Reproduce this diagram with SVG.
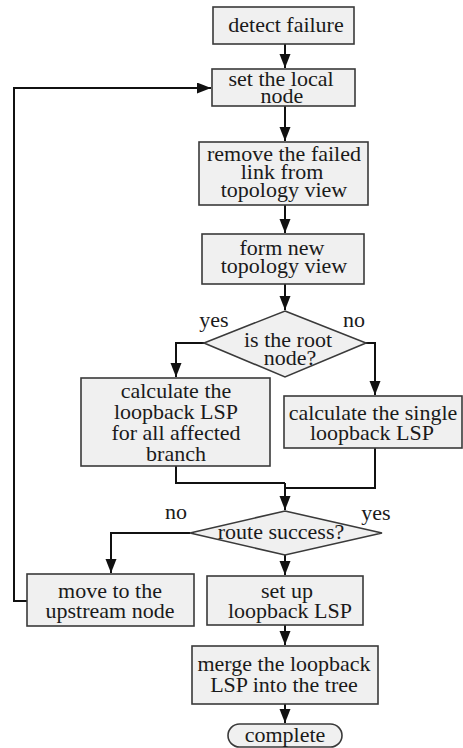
<svg xmlns="http://www.w3.org/2000/svg" width="463" height="748" viewBox="0 0 463 748" font-family="'Liberation Serif', 'Times New Roman', serif">
<style>
.box{fill:#f0f0f0;stroke:#3a3a3a;stroke-width:1.6}
text{font-family:'Liberation Serif','Times New Roman',serif;font-size:22px;fill:#1a1a1a;text-anchor:middle}
.c{fill:none;stroke:#111;stroke-width:2}
</style>
<defs>
<marker id="ah" markerUnits="userSpaceOnUse" markerWidth="15" markerHeight="12" refX="14" refY="5.5" orient="auto">
<path d="M0,0 L14,5.5 L0,11 z" fill="#111"/>
</marker>
</defs>
<rect width="463" height="748" fill="#ffffff"/>
<g id="connectors">
<path class="c" d="M285,44 V68" marker-end="url(#ah)"/>
<path class="c" d="M285,106 V141" marker-end="url(#ah)"/>
<path class="c" d="M285,205 V233" marker-end="url(#ah)"/>
<path class="c" d="M285,284 V310" marker-end="url(#ah)"/>
<path class="c" d="M204,343 H176 V377" marker-end="url(#ah)"/>
<path class="c" d="M366,343 H375 V395" marker-end="url(#ah)"/>
<path class="c" d="M176,466 V483 H285"/>
<path class="c" d="M375,448 V488 H285"/>
<path class="c" d="M285,483 V510" marker-end="url(#ah)"/>
<path class="c" d="M190,533 H111 V573" marker-end="url(#ah)"/>
<path class="c" d="M285,555 V575" marker-end="url(#ah)"/>
<path class="c" d="M285,625 V645" marker-end="url(#ah)"/>
<path class="c" d="M285,704 V723" marker-end="url(#ah)"/>
<path class="c" d="M27,601 H14 V88 H211" marker-end="url(#ah)"/>
<text x="214" y="327">yes</text>
<text x="354" y="327">no</text>
<text x="176" y="519">no</text>
<text x="376" y="520">yes</text>
</g>
<g id="detect">
<rect class="box" x="213" y="7" width="141" height="37"/>
<text x="286" y="32">detect failure</text>
</g>
<g id="setlocal">
<rect class="box" x="212" y="69" width="143" height="37"/>
<text x="281" y="86">set the local</text>
<text x="282" y="103">node</text>
</g>
<g id="remove">
<rect class="box" x="199" y="142" width="169" height="63"/>
<text x="284" y="161">remove the failed</text>
<text x="282" y="179">link from</text>
<text x="284" y="197">topology view</text>
</g>
<g id="formnew">
<rect class="box" x="202" y="234" width="162" height="50"/>
<text x="282" y="255">form new</text>
<text x="284" y="273">topology view</text>
</g>
<g id="isroot">
<polygon class="box" points="285,311 366,343 285,377 204,343"/>
<text x="288" y="347">is the root</text>
<text x="290" y="365">node?</text>
</g>
<g id="calcall">
<rect class="box" x="81" y="378" width="189" height="88"/>
<text x="176" y="398">calculate the</text>
<text x="176" y="419">loopback LSP</text>
<text x="176" y="440">for all affected</text>
<text x="176" y="461">branch</text>
</g>
<g id="calcsingle">
<rect class="box" x="284" y="396" width="178" height="52"/>
<text x="373" y="420">calculate the single</text>
<text x="372" y="440">loopback LSP</text>
</g>
<g id="route">
<polygon class="box" points="285,511 382,533 285,555 190,533"/>
<text x="281" y="539">route success?</text>
</g>
<g id="move">
<rect class="box" x="27" y="574" width="167" height="52"/>
<text x="110" y="598">move to the</text>
<text x="110" y="618">upstream node</text>
</g>
<g id="setup">
<rect class="box" x="207" y="576" width="156" height="49"/>
<text x="287" y="598">set up</text>
<text x="290" y="618">loopback LSP</text>
</g>
<g id="merge">
<rect class="box" x="192" y="646" width="186" height="58"/>
<text x="284" y="671">merge the loopback</text>
<text x="284" y="692">LSP into the tree</text>
</g>
<g id="complete">
<rect class="box" x="228" y="724" width="114" height="23" rx="11.5" ry="11.5"/>
<text x="285" y="742">complete</text>
</g>
</svg>
